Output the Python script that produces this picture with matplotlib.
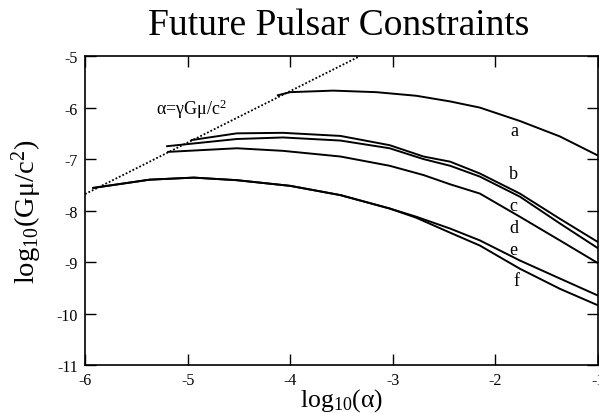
import matplotlib
matplotlib.use("Agg")
import matplotlib.pyplot as plt

plt.rcParams['font.family'] = ['Liberation Serif', 'DejaVu Serif']
plt.rcParams['mathtext.fontset'] = 'custom'
plt.rcParams['mathtext.rm'] = 'Liberation Serif'
plt.rcParams['mathtext.it'] = 'Liberation Serif:italic'
plt.rcParams['mathtext.bf'] = 'Liberation Serif:bold'

# Dotted line alpha = gamma G mu / c^2
dot_x = [-6.0, -3.32]
dot_y = [-7.68, -5.0]

# Curves
a_x = [-4.12, -4.0, -3.58, -3.16, -2.77, -2.44, -2.15, -1.76, -1.37, -1.0]
a_y = [-5.76, -5.70, -5.67, -5.70, -5.77, -5.88, -6.00, -6.26, -6.56, -6.93]

b_x = [-4.96, -4.52, -4.07, -3.51, -3.03, -2.70, -2.44, -2.15, -1.76, -1.37, -1.0]
b_y = [-6.63, -6.50, -6.49, -6.55, -6.73, -6.95, -7.05, -7.28, -7.67, -8.16, -8.61]

c_x = [-5.20, -4.52, -4.07, -3.51, -3.03, -2.70, -2.44, -2.15, -1.76, -1.37, -1.0]
c_y = [-6.75, -6.61, -6.58, -6.64, -6.79, -7.00, -7.13, -7.34, -7.73, -8.25, -8.73]

d_x = [-5.19, -4.52, -4.07, -3.51, -3.03, -2.70, -2.44, -2.15, -1.76, -1.37, -1.0]
d_y = [-6.86, -6.79, -6.84, -6.95, -7.13, -7.31, -7.49, -7.67, -8.12, -8.58, -9.02]

e_x = [-5.92, -5.37, -4.94, -4.52, -4.0, -3.51, -3.03, -2.77, -2.44, -2.15, -1.76, -1.37, -1.0]
e_y = [-7.56, -7.40, -7.36, -7.41, -7.52, -7.70, -7.96, -8.12, -8.35, -8.58, -8.97, -9.32, -9.65]

f_x = [-5.92, -5.37, -4.94, -4.52, -4.0, -3.51, -3.03, -2.77, -2.44, -2.15, -1.76, -1.37, -1.0]
f_y = [-7.56, -7.40, -7.36, -7.41, -7.52, -7.70, -7.96, -8.14, -8.43, -8.68, -9.13, -9.52, -9.84]

curve_labels = ['a', 'b', 'c', 'd', 'e', 'f']
label_x = [-1.81, -1.82, -1.82, -1.82, -1.82, -1.79]
label_y = [-6.44, -7.28, -7.91, -8.33, -8.75, -9.36]

x_ticks = [-6, -5, -4, -3, -2, -1]
y_ticks = [-5, -6, -7, -8, -9, -10, -11]

fig = plt.figure(figsize=(5.99, 4.14), dpi=100)
ax = fig.add_axes([0.142, 0.116, 0.856, 0.746])

ax.plot(dot_x, dot_y, color='black', lw=1.3, linestyle=(0, (1, 1.1)))
for xs, ys in [(a_x, a_y), (b_x, b_y), (c_x, c_y), (d_x, d_y), (e_x, e_y), (f_x, f_y)]:
    ax.plot(xs, ys, color='black', lw=1.4, solid_joinstyle='round')

for lab, lx, ly in zip(curve_labels, label_x, label_y):
    ax.text(lx, ly, lab, fontsize=13, ha='center', va='center')

ax.text(-4.96, -6.01, 'α=γGμ/c$^2$', fontsize=13, ha='center', va='center')

ax.set_xlim(-6, -1)
ax.set_ylim(-11, -5)
ax.set_xticks(x_ticks)
ax.set_yticks(y_ticks)
ax.set_xticklabels([str(t) for t in x_ticks])
ax.set_yticklabels([str(t) for t in y_ticks])
ax.tick_params(direction='in', length=8, width=1, top=True, right=True,
               labelsize=11.5, pad=5)
for s in ax.spines.values():
    s.set_linewidth(1.2)

ax.set_xlabel('log$_{10}$(α)', fontsize=18.5, labelpad=-1)
ax.set_ylabel('log$_{10}$(Gμ/c$^2$)', fontsize=20.5, labelpad=9)

fig.text(0.565, 0.938, 'Future Pulsar Constraints', fontsize=27, ha='center', va='center')

fig.savefig('out.png', dpi=100)
